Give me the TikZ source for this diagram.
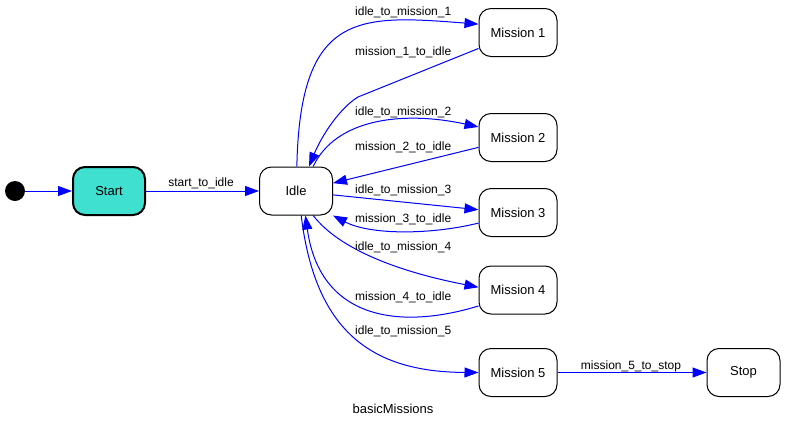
\documentclass[tikz,border=0pt]{standalone}
\usepackage{fontspec}
\setmainfont{Liberation Sans}
\usetikzlibrary{arrows.meta}
\definecolor{turq}{HTML}{40E0D0}

\begin{document}
\begin{tikzpicture}[x=1pt, y=-1pt,
	state/.style={draw, rounded corners=12pt, minimum width=73pt, minimum height=48pt, line width=1pt, font=\fontsize{13}{15}\selectfont},
	trans/.style={draw=blue, line width=1pt, -{Triangle[length=14pt,width=10pt]}},
	lbl/.style={font=\fontsize{12}{14}\selectfont, inner sep=0pt}]
			\useasboundingbox (0,0) rectangle (785,429);
			
			\node[circle, fill=black, minimum size=20pt, inner sep=0pt] (init) at (15,191) {};
			\node[state, fill=turq, line width=2pt, minimum width=72pt] (start) at (109,191) {Start};
			\node[state] (idle) at (296,191) {Idle};
			\node[state, minimum width=78pt] (m1) at (518,32.5) {Mission 1};
			\node[state, minimum width=78pt] (m2) at (518,137.5) {Mission 2};
			\node[state, minimum width=78pt] (m3) at (518,212.5) {Mission 3};
			\node[state, minimum width=78pt] (m4) at (518,290) {Mission 4};
			\node[state, minimum width=78pt] (m5) at (518,372.5) {Mission 5};
			\node[state] (stop) at (743.5,372.5) {Stop};
			
			\draw[trans] (init) -- (start);
			\draw[trans] (start) -- (idle);
			\draw[trans] (idle.88) .. controls (300,10) and (360,15) .. (m1.168);
			\draw[trans] (m1.202) -- (358,97) .. controls (340,108) and (322,135) .. (idle.62);
			\draw[trans] (idle.55) .. controls (335,120) and (400,110) .. (m2.165);
			\draw[trans] (m2.194) -- (idle.12);
			\draw[trans] (idle.-6) -- (m3.176);
			\draw[trans] (m3.195) .. controls (430,235) and (370,235) .. (idle.south east);
			\draw[trans] (idle.-55) .. controls (340,250) and (400,272) .. (m4.176);
			\draw[trans] (m4.202) .. controls (400,330) and (320,320) .. (idle.-69);
			\draw[trans] (idle.-78) .. controls (315,330) and (370,372) .. (m5.west);
			\draw[trans] (m5) -- (stop);
			
			\node[lbl] (lstart) at (201,183) {start\_to\_idle};
			\node[lbl, anchor=west] (l1) at (355,12) {idle\_to\_mission\_1};
			\node[lbl, anchor=west] (l2) at (355,52) {mission\_1\_to\_idle};
			\node[lbl, anchor=west] (l3) at (355,112) {idle\_to\_mission\_2};
			\node[lbl, anchor=west] (l4) at (355,147) {mission\_2\_to\_idle};
			\node[lbl, anchor=west] (l5) at (355,190) {idle\_to\_mission\_3};
			\node[lbl, anchor=west] (l6) at (355,219) {mission\_3\_to\_idle};
			\node[lbl, anchor=west] (l7) at (355,247) {idle\_to\_mission\_4};
			\node[lbl, anchor=west] (l8) at (355,297) {mission\_4\_to\_idle};
			\node[lbl, anchor=west] (l9) at (355,331) {idle\_to\_mission\_5};
			\node[lbl] (lstop) at (631,366) {mission\_5\_to\_stop};
			\node[font=\fontsize{13}{15}\selectfont] (title) at (393,409) {basicMissions};
			\end{tikzpicture}
\end{document}
